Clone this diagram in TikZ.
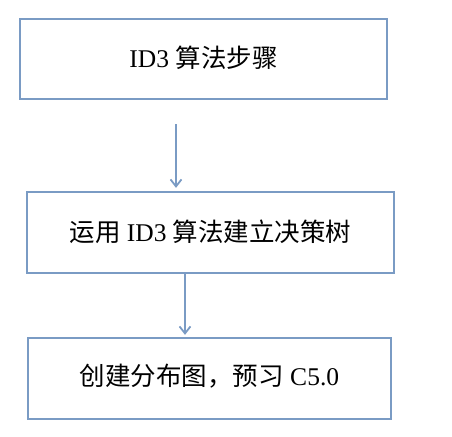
\documentclass[tikz,border=0pt]{standalone}
\usepackage{fontspec}
\setmainfont{Liberation Serif}
\newfontfamily\cjk{Noto Sans CJK SC}
\usetikzlibrary{arrows.meta}
\definecolor{boxline}{RGB}{122,155,196}
\tikzset{
  stepbox/.style={draw=boxline, line width=2.3pt, rectangle, inner sep=0pt,
    font=\fontsize{25.5}{30}\selectfont},
  flowarrow/.style={draw=boxline, line width=2.2pt,
    -{Straight Barb[length=7pt,width=11pt,line width=1.8pt]}}
}
\begin{document}
\begin{tikzpicture}[x=1pt,y=-1pt]
\useasboundingbox (0,0) rectangle (452,436);
\node[stepbox, minimum width=367pt, minimum height=80pt] (b1) at (203.5,59)
  {\raisebox{5pt}{ID3 {\cjk 算法步骤}}};
\node[stepbox, minimum width=367pt, minimum height=81pt] (b2) at (210.5,232.5)
  {\raisebox{3pt}{{\cjk 运用} ID3 {\cjk 算法建立决策树}}};
\node[stepbox, minimum width=363pt, minimum height=81pt] (b3) at (209.5,378.5)
  {\raisebox{8pt}{{\cjk 创建分布图，预习} C5.0}};
\coordinate (a1s) at (176,124);
\draw[flowarrow, shorten >=3pt] (a1s) -- (a1s |- b2.north);
\coordinate (a2s) at (185,273);
\draw[flowarrow, shorten >=2pt] (a2s) -- (a2s |- b3.north);
\end{tikzpicture}
\end{document}
